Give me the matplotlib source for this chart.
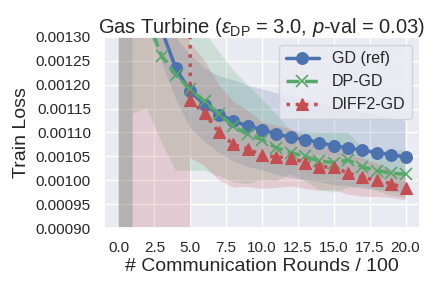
import matplotlib
matplotlib.use('Agg')
import matplotlib.pyplot as plt
from matplotlib.ticker import FormatStrFormatter
import seaborn as sns
import numpy as np

# x axis: communication rounds / 100
rounds = list(range(21))

# GD (ref)
gd_mean = [0.05, 0.0025, 0.0014, 0.001315, 0.001234, 0.001186, 0.001158, 0.0011375,
           0.001125, 0.001113, 0.001106, 0.001097, 0.00109, 0.001085, 0.001079,
           0.001072, 0.001068, 0.0010625, 0.001058, 0.001053, 0.001049]
gd_std = [0.1, 0.0005, 0.00008, 0.000068, 0.000064, 0.000076, 0.000077, 0.00008,
          0.000085, 0.000085, 0.000085, 0.000085, 0.000085, 0.000085, 0.000083,
          0.000082, 0.00008, 0.00008, 0.000078, 0.000077, 0.000075]

# DP-GD
dp_mean = [0.05, 0.0016, 0.00134, 0.00126, 0.00122, 0.00119, 0.001165, 0.001139,
           0.001113, 0.001096, 0.001085, 0.001068, 0.001058, 0.00105, 0.00104,
           0.001037, 0.001042, 0.001028, 0.00102, 0.001015, 0.001013]
dp_std = [0.1, 0.00046, 0.00019, 0.00018, 0.0002, 0.00017, 0.000145, 0.00013,
          0.000117, 0.000104, 0.000085, 0.00007, 0.000045, 0.000052, 0.00006,
          0.000063, 0.000058, 0.00004, 0.000042, 0.000047, 0.00005]

# DIFF2-GD
diff_mean = [0.5, 0.3, 0.2, 0.1, 0.05, 0.001167, 0.00114, 0.0011, 0.001075,
             0.001066, 0.001052, 0.001049, 0.001047, 0.001037, 0.001028,
             0.001028, 0.001015, 0.001006, 0.001, 0.000993, 0.000983]
diff_std = [1.0, 0.6, 0.4, 0.2, 0.1, 0.00012, 0.00011, 0.0001, 0.00009, 0.00008,
            0.00007, 0.000065, 0.00006, 0.000055, 0.00005, 0.000048, 0.000045,
            0.00004, 0.000035, 0.00003, 0.000025]

sns.set_theme(style='darkgrid')
plt.rcParams['font.family'] = ['Liberation Sans', 'DejaVu Sans']
plt.rcParams['mathtext.fontset'] = 'custom'
plt.rcParams['mathtext.rm'] = 'Liberation Sans'
plt.rcParams['mathtext.it'] = 'Liberation Sans:italic'

colors = sns.color_palette('deep')

fig = plt.figure(figsize=(4.32, 2.88), dpi=100)
ax = fig.add_subplot(111)
fig.subplots_adjust(left=0.241, right=0.972, top=0.872, bottom=0.208)

series = [
    ('GD (ref)', gd_mean, gd_std, colors[0], '-', 'o'),
    ('DP-GD', dp_mean, dp_std, colors[2], '--', 'x'),
    ('DIFF2-GD', diff_mean, diff_std, colors[3], ':', '^'),
]

x = np.array(rounds)
for label, mean, std, color, ls, marker in series:
    mean = np.array(mean)
    std = np.array(std)
    ax.plot(x, mean, linestyle=ls, marker=marker, color=color, label=label,
            linewidth=2.5, markersize=8.5, markeredgewidth=1.2 if marker == 'x' else 0.8)
    ax.fill_between(x, mean - std, mean + std, color=color, alpha=0.2, linewidth=0)

ax.set_ylim(0.0009, 0.0013)
ax.set_xlim(-1, 21)
ax.set_yticks(np.arange(0.0009, 0.001301, 0.00005))
ax.yaxis.set_major_formatter(FormatStrFormatter('%.5f'))
ax.set_xticks(np.arange(0, 20.1, 2.5))
ax.tick_params(labelsize=11)

ax.set_xlabel('# Communication Rounds / 100', fontsize=14, labelpad=2)
ax.set_ylabel('Train Loss', fontsize=14)
ax.set_title(r'Gas Turbine ($\varepsilon_{\rm DP}$ = 3.0, $p$-val = 0.03)',
             fontsize=14.5, pad=3)

ax.legend(loc='upper right', fontsize=11.5, handlelength=2.1)

plt.savefig('out.png', dpi=100)
